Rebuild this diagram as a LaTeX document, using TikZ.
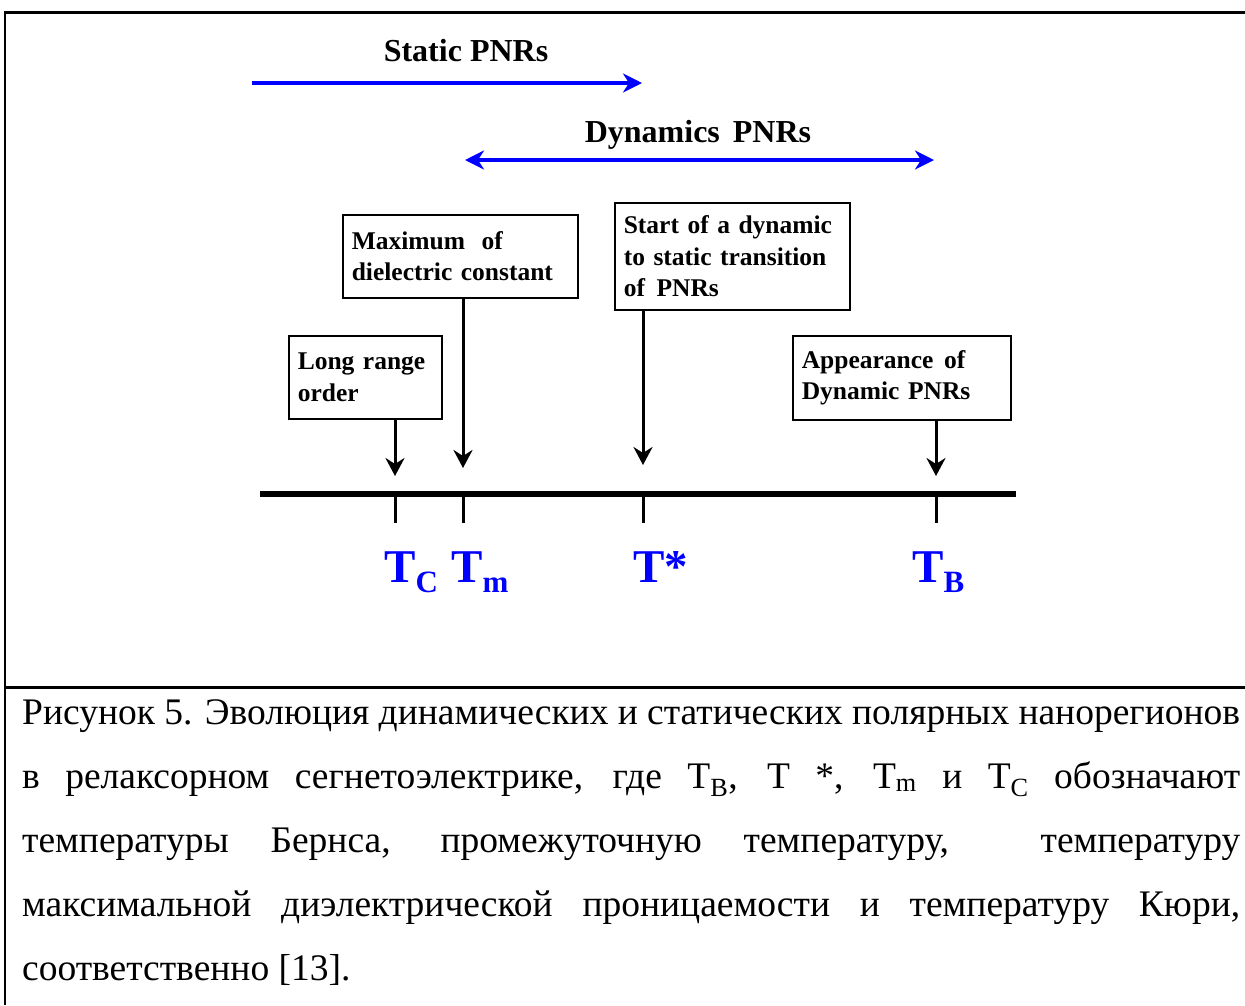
\documentclass[tikz,border=0pt]{standalone}
\usepackage{fontspec}
\setmainfont{Liberation Serif}
\usetikzlibrary{arrows.meta}
\definecolor{pblue}{RGB}{0,0,255}
\begin{document}
\begin{tikzpicture}[x=1pt,y=-1pt,
  frameline/.style={line width=3pt,black},
  boxnode/.style={draw, line width=1.6pt, anchor=north west, align=left,
    inner xsep=9pt, inner ysep=0pt,
    font=\bfseries\fontsize{25.5}{31.5}\selectfont},
  hdr/.style={font=\bfseries\fontsize{32}{36}\selectfont, inner sep=0pt},
  bluearrow/.style={line width=4pt, pblue, -{Stealth[length=19pt,width=19pt,inset=6pt]}},
  bluedouble/.style={line width=4pt, pblue, {Stealth[length=19pt,width=19pt,inset=6pt]}-{Stealth[length=19pt,width=19pt,inset=6pt]}},
  downarrow/.style={line width=3pt, -{Stealth[length=18pt,width=19pt,inset=6pt]}},
  axisline/.style={line width=6pt},
  tickline/.style={line width=3pt},
  tlab/.style={anchor=base west, inner sep=0pt, text=pblue, font=\bfseries\fontsize{47}{47}\selectfont},
  capline/.style={anchor=base west, inner sep=0pt, font=\fontsize{37.5}{44}\selectfont}
]
\useasboundingbox (0,0) rectangle (1245,1005);

% frame
\draw[frameline] (4,12.5) -- (1245,12.5);
\draw[line width=2pt] (5,11) -- (5,1005);
\draw[frameline] (4,687) -- (1245,687);

% headers and blue arrows
\node[hdr] (hstatic) at (466,51) {Static PNRs};
\coordinate (s1) at (252,83);
\coordinate (s2) at (642,83);
\draw[bluearrow] (s1) -- (s2);

\node[hdr] (hdyn) at (698,135) {Dynamics\hspace{5pt} PNRs};
\coordinate (d1) at (465,160);
\coordinate (d2) at (934,160);
\draw[bluedouble] (d1) -- (d2);

% boxes
\node[boxnode, text width=135pt, minimum height=83pt] (lro) at (288,335)
  {Long range\\order};
\node[boxnode, text width=217pt, minimum height=83pt] (maxd) at (342,214)
  {Maximum\hspace{8pt} of\\dielectric constant};
\node[boxnode, text width=217pt, minimum height=107pt] (start) at (614,202)
  {Start of a dynamic\\to static transition\\of\hspace{3pt} PNRs};
\node[boxnode, text width=200pt, minimum height=84pt] (app) at (792,335)
  {Appearance\hspace{2pt} of\\Dynamic PNRs};

% axis and ticks
\coordinate (ax1) at (260,494);
\coordinate (ax2) at (1016,494);
\coordinate (tc) at (395,494);
\coordinate (tm) at (463,494);
\coordinate (ts) at (643,494);
\coordinate (tb) at (936,494);
\draw[axisline] (ax1) -- (ax2);
\foreach \t in {tc,tm,ts,tb} \draw[tickline] (\t) -- ++(0,29);

% down arrows
\coordinate (atc) at (395,476);
\coordinate (atm) at (463,468);
\coordinate (ats) at (643,465);
\coordinate (atb) at (936,476);
\draw[downarrow] (lro.south -| tc) -- (atc);
\draw[downarrow] (maxd.south -| tm) -- (atm);
\draw[downarrow] (start.south -| ts) -- (ats);
\draw[downarrow] (app.south -| tb) -- (atb);

% temperature labels
\node[tlab] (lTc) at (384,582) {T\raisebox{-10pt}{\fontsize{31}{31}\selectfont C}};
\node[tlab] (lTm) at (451,582) {T\raisebox{-10pt}{\fontsize{31}{31}\selectfont m}};
\node[tlab] (lTs) at (633,582) {T*};
\node[tlab] (lTb) at (912,582) {T\raisebox{-10pt}{\fontsize{31}{31}\selectfont B}};

% caption
\node[capline] (c1) at (22,724) {\makebox[1218pt][s]{Рисунок 5. Эволюция динамических и статических полярных нанорегионов}};
\node[capline] (c2) at (22,788) {\makebox[1218pt][s]{в релаксорном сегнетоэлектрике, где T\textsubscript{B}, T *, T\textsubscript{m} и T\textsubscript{C} обозначают}};
\node[capline] (c3) at (22,852) {\makebox[1218pt][s]{температуры Бернса, промежуточную температуру,~ температуру}};
\node[capline] (c4) at (22,916) {\makebox[1218pt][s]{максимальной диэлектрической проницаемости и температуру Кюри,}};
\node[capline] (c5) at (22,980) {соответственно [13].};
\end{tikzpicture}
\end{document}
